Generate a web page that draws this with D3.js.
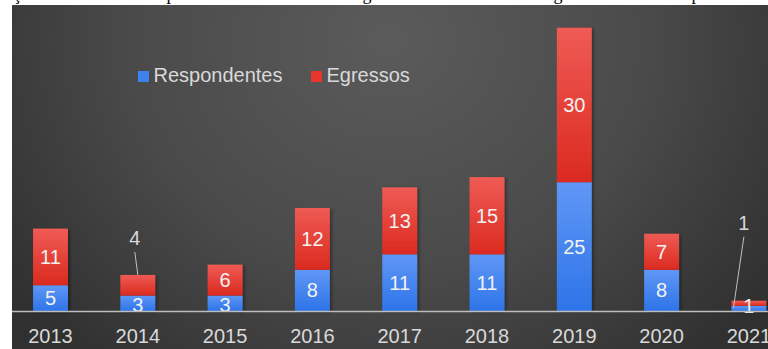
<!DOCTYPE html>
<html>
<head>
<meta charset="utf-8">
<script src="https://cdn.jsdelivr.net/npm/d3@7"></script>
<style>
  html, body { margin: 0; padding: 0; background: #ffffff; }
  svg { display: block; }
</style>
</head>
<body>
<svg id="chart" width="768" height="349"></svg>
<script>
// Anos e séries
const years = ["2013", "2014", "2015", "2016", "2017", "2018", "2019", "2020", "2021"];
const respondentes = [5, 3, 3, 8, 11, 11, 25, 8, 1];
const egressos = [11, 4, 6, 12, 13, 15, 30, 7, 1];
const seriesNames = ["Respondentes", "Egressos"];

const W = 768, H = 349;
const svg = d3.select("#chart");
const defs = svg.append("defs");

// Fundo escuro com gradiente radial
const bg = defs.append("radialGradient").attr("id", "bg")
  .attr("gradientUnits", "userSpaceOnUse")
  .attr("cx", 390).attr("cy", 40).attr("r", 470)
  .attr("gradientTransform", "translate(390,40) scale(1,0.9) translate(-390,-40)");
bg.append("stop").attr("offset", 0).attr("stop-color", "#5b5b5b");
bg.append("stop").attr("offset", 0.55).attr("stop-color", "#4a4a4a");
bg.append("stop").attr("offset", 1).attr("stop-color", "#303030");

function barGrad(id, top, bottom) {
  const g = defs.append("linearGradient").attr("id", id)
    .attr("x1", 0).attr("y1", 0).attr("x2", 0).attr("y2", 1);
  g.append("stop").attr("offset", 0).attr("stop-color", top);
  g.append("stop").attr("offset", 1).attr("stop-color", bottom);
}
barGrad("gBlue", "#6097f6", "#2d74e8");
barGrad("gRed", "#ef5b55", "#db2a1f");

const shadow = defs.append("filter").attr("id", "shadow")
  .attr("x", "-20%").attr("y", "-20%").attr("width", "150%").attr("height", "150%");
shadow.append("feDropShadow").attr("dx", 2).attr("dy", 1).attr("stdDeviation", 1.5)
  .attr("flood-color", "#000").attr("flood-opacity", 0.35);

// Linha de texto da página acima do gráfico (só as descendentes aparecem)
const caption = svg.append("g")
  .attr("font-family", "'Liberation Serif', 'Times New Roman', serif")
  .attr("font-size", 18).attr("fill", "#000");
const captionParts = [
  { text: "Relação", idx: 4, at: 17 },
  { text: "dos respondentes", idx: 7, at: 171 },
  { text: "e egressos", idx: 3, at: 367 },
  { text: "segundo o ano", idx: 2, at: 558 },
  { text: "período", idx: 0, at: 696 }
];
captionParts.forEach(p => {
  const t = caption.append("text").attr("y", 0.3).text(p.text);
  const node = t.node();
  const pre = p.idx > 0 ? node.getSubStringLength(0, p.idx) : 0;
  const cw = node.getSubStringLength(p.idx, 1);
  t.attr("x", p.at - pre - cw / 2);
});

// Painel do gráfico
svg.append("rect").attr("x", 12).attr("y", 5).attr("width", W - 12).attr("height", H - 5)
  .attr("fill", "url(#bg)");

// Escalas
const x = d3.scaleBand().domain(years).range([6.85, 792.55])
  .paddingInner(0.6).paddingOuter(0.3);
const y = d3.scaleLinear().domain([0, 55]).range([311, 27.7]);

const rows = years.map((yr, i) => ({ year: yr, r: respondentes[i], e: egressos[i] }));

const plot = svg.append("g");

// Barras empilhadas
const bars = plot.selectAll("g.bar").data(rows).join("g").attr("class", "bar")
  .attr("filter", "url(#shadow)");
bars.append("rect")
  .attr("x", d => x(d.year)).attr("width", x.bandwidth())
  .attr("y", d => y(d.r)).attr("height", d => y(0) - y(d.r))
  .attr("fill", "url(#gBlue)");
bars.append("rect")
  .attr("x", d => x(d.year)).attr("width", x.bandwidth())
  .attr("y", d => y(d.r + d.e)).attr("height", d => y(d.r) - y(d.r + d.e))
  .attr("fill", "url(#gRed)");

// Eixo horizontal
const axis = d3.axisBottom(x).tickSize(0).tickPadding(0);
const ax = svg.append("g").attr("transform", `translate(0,${y(0)})`).call(axis);
ax.select(".domain").remove();
svg.append("line").attr("x1", 12).attr("x2", W).attr("y1", y(0) + 0.5).attr("y2", y(0) + 0.5)
  .attr("stroke", "#bdbdbd").attr("stroke-width", 1.5);
ax.selectAll(".tick text")
  .attr("font-family", "'Liberation Sans', Arial, sans-serif")
  .attr("font-size", 20).attr("fill", "#d9d9d9")
  .attr("dy", null).attr("y", 32);

// Rótulos de valor
const labelFont = "'Liberation Sans', Arial, sans-serif";
const callouts = { "2014": { dx: -3, dy: -37 }, "2021": { dx: -5, dy: -78 } };

const lbl = plot.append("g").attr("font-family", labelFont).attr("font-size", 20)
  .attr("fill", "#f2f2f2").attr("text-anchor", "middle").attr("dominant-baseline", "central");

rows.forEach(d => {
  const cx = x(d.year) + x.bandwidth() / 2;
  // respondentes
  const by = d.r >= 3 ? (y(0) + y(d.r)) / 2 + (d.r <= 3 ? 1.5 : 0) : y(0) - 5;
  lbl.append("text").attr("x", cx).attr("y", by).text(d.r);
  // egressos
  const co = callouts[d.year];
  if (co) {
    const topY = y(d.r + d.e);
    const lx = cx + co.dx, ly = topY + co.dy;
    lbl.append("text").attr("x", lx).attr("y", ly).attr("fill", "#d9d9d9").text(d.e);
    const endX = d.year === "2021" ? x(d.year) + 2 : cx;
    const endY = d.year === "2021" ? y(0) - 3 : topY;
    plot.append("line")
      .attr("x1", lx).attr("y1", ly + 14)
      .attr("x2", endX).attr("y2", endY)
      .attr("stroke", "#bfbfbf").attr("stroke-width", 1);
  } else {
    lbl.append("text").attr("x", cx).attr("y", (y(d.r) + y(d.r + d.e)) / 2).text(d.e);
  }
});

// Legenda
const legendColors = ["#3d82f0", "#e8352c"];
const legendX = [138, 311];
const leg = svg.append("g").attr("font-family", labelFont).attr("font-size", 20).attr("fill", "#d9d9d9");
seriesNames.forEach((name, i) => {
  leg.append("rect").attr("x", legendX[i]).attr("y", 71).attr("width", 11).attr("height", 11)
    .attr("fill", legendColors[i]);
  leg.append("text").attr("x", legendX[i] + 15.5).attr("y", 82).text(name);
});
</script>
</body>
</html>
